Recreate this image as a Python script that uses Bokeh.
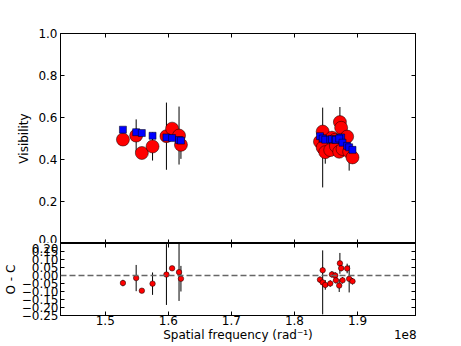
from bokeh.plotting import figure
from bokeh.layouts import column
from bokeh.models import (LinearAxis, FixedTicker, CustomJSTickFormatter, Range1d,
                          ColumnDataSource, Span)
from bokeh.embed import file_html
from bokeh.resources import INLINE

# ---------------- data ----------------
spatial_freq = [1.528e8, 1.549e8, 1.558e8, 1.575e8, 1.597e8, 1.606e8, 1.617e8, 1.620e8,
                1.8448e8, 1.8405e8, 1.8448e8, 1.8489e8, 1.8568e8, 1.8595e8, 1.8647e8, 1.8658e8,
                1.8721e8, 1.8741e8, 1.8710e8, 1.8763e8, 1.8836e8, 1.8868e8, 1.8921e8]
vis_obs = [0.495, 0.514, 0.431, 0.462, 0.511, 0.547, 0.514, 0.470,
           0.533, 0.485, 0.457, 0.435, 0.445, 0.504, 0.494, 0.464,
           0.578, 0.551, 0.437, 0.450, 0.509, 0.437, 0.410]
vis_model = [0.542, 0.530, 0.526, 0.513, 0.505, 0.502, 0.493, 0.490,
             0.500, 0.511, 0.500, 0.494, 0.495, 0.497, 0.494, 0.494,
             0.502, 0.505, 0.500, 0.480, 0.465, 0.458, 0.446]
vis_err = [0.015, 0.077, 0.010, 0.067, 0.160, 0.010, 0.138, 0.067,
           0.030, 0.030, 0.190, 0.055, 0.030, 0.030, 0.030, 0.050,
           0.072, 0.030, 0.030, 0.030, 0.030, 0.090, 0.030]
resid_err = [0.020, 0.082, 0.010, 0.070, 0.190, 0.010, 0.180, 0.080,
             0.020, 0.020, 0.200, 0.030, 0.020, 0.020, 0.020, 0.020,
             0.065, 0.020, 0.040, 0.020, 0.030, 0.085, 0.020]
freq_ticks = [1.5e8, 1.6e8, 1.7e8, 1.8e8, 1.9e8]
vis_ticks = [0.0, 0.2, 0.4, 0.6, 0.8, 1.0]
resid_ticks = [0.20, 0.15, 0.10, 0.05, 0.00, -0.05, -0.10, -0.15, -0.20, -0.25]
x_title = "Spatial frequency (rad\u207b\u00b9)"
x_offset_text = "1e8"

resid = [o - m for o, m in zip(vis_obs, vis_model)]
src = ColumnDataSource(dict(
    x=spatial_freq, v=vis_obs, m=vis_model, r=resid,
    vlo=[v - e for v, e in zip(vis_obs, vis_err)],
    vhi=[v + e for v, e in zip(vis_obs, vis_err)],
    rlo=[r - e for r, e in zip(resid, resid_err)],
    rhi=[r + e for r, e in zip(resid, resid_err)],
))

FONT = "DejaVu Sans"
XR = Range1d(1.429e8, 1.992e8)
W = 440
BL, BR = 58, 25

def style_axis(ax, labels=True):
    ax.major_tick_in = 4
    ax.major_tick_out = 0
    ax.minor_tick_line_color = None
    ax.axis_line_color = "black"
    ax.major_tick_line_color = "black"
    ax.major_label_text_font = FONT
    ax.major_label_text_font_size = "12px"
    ax.major_label_text_color = "black"
    ax.axis_label_text_font = FONT
    ax.axis_label_text_font_size = "12px"
    ax.axis_label_text_font_style = "normal"
    ax.axis_label_text_color = "black"
    if not labels:
        ax.major_label_text_font_size = "0px"
        ax.major_label_standoff = 0

# ---------------- top panel ----------------
p1 = figure(width=W, height=243, x_range=XR, y_range=Range1d(0, 1),
            output_backend="svg", toolbar_location=None,
            min_border_left=BL, min_border_right=BR, min_border_top=33, min_border_bottom=0)
p1.grid.visible = False
p1.outline_line_color = "black"
p1.outline_line_alpha = 1
p1.xaxis.ticker = FixedTicker(ticks=freq_ticks)
style_axis(p1.xaxis[0], labels=False)
p1.yaxis.ticker = FixedTicker(ticks=vis_ticks)
p1.yaxis.formatter = CustomJSTickFormatter(code="return tick.toFixed(1);")
style_axis(p1.yaxis[0])
p1.yaxis.axis_label = "Visibility"
p1.yaxis.major_label_standoff = 3
p1.yaxis.axis_label_standoff = 4
ra = LinearAxis(ticker=FixedTicker(ticks=vis_ticks))
style_axis(ra, labels=False)
p1.add_layout(ra, "right")
ta = LinearAxis(ticker=FixedTicker(ticks=freq_ticks))
style_axis(ta, labels=False)
p1.add_layout(ta, "above")

p1.segment(x0="x", y0="vlo", x1="x", y1="vhi", source=src, line_color="black", line_width=1)
p1.scatter(x="x", y="v", source=src, size=13, fill_color="#ff0000",
           line_color="black", line_width=0.5)
p1.scatter(x="x", y="m", source=src, marker="square", size=7, fill_color="#0000ff",
           line_color="black", line_width=0.5)

# ---------------- residual panel ----------------
p2 = figure(width=W, height=101, x_range=XR, y_range=Range1d(-0.25, 0.20),
            output_backend="svg", toolbar_location=None,
            min_border_left=BL, min_border_right=BR, min_border_top=0, min_border_bottom=0)
p2.grid.visible = False
p2.outline_line_color = "black"
p2.outline_line_alpha = 1
p2.xaxis.ticker = FixedTicker(ticks=freq_ticks)
p2.xaxis.formatter = CustomJSTickFormatter(code="return (tick/1e8).toFixed(1);")
style_axis(p2.xaxis[0])
p2.xaxis.major_label_standoff = 0
p2.yaxis.ticker = FixedTicker(ticks=resid_ticks)
p2.yaxis.formatter = CustomJSTickFormatter(code="return tick.toFixed(2).replace('-', '\u2212');")
style_axis(p2.yaxis[0])
p2.yaxis.axis_label = "O - C"
p2.yaxis.major_label_standoff = 2
p2.yaxis.axis_label_standoff = 1
ra2 = LinearAxis(ticker=FixedTicker(ticks=resid_ticks))
style_axis(ra2, labels=False)
p2.add_layout(ra2, "right")
ta2 = LinearAxis(ticker=FixedTicker(ticks=freq_ticks))
style_axis(ta2, labels=False)
p2.add_layout(ta2, "above")

# second bottom axis row: carries the axis title and the offset text "1e8"
span_x = XR.end - XR.start
title_axis = LinearAxis(
    ticker=FixedTicker(ticks=[XR.start + span_x / 2, XR.end - span_x * 0.029]),
    formatter=CustomJSTickFormatter(args=dict(t=x_title, o=x_offset_text),
                                    code="return index == 0 ? t : o;"))
style_axis(title_axis)
title_axis.major_tick_in = 0
title_axis.major_tick_line_color = None
title_axis.axis_line_color = None
title_axis.major_label_standoff = 0
p2.add_layout(title_axis, "below")

p2.add_layout(Span(location=0, dimension="width", line_color="#666666",
                   line_dash="6 3", line_width=1.3))
p2.segment(x0="x", y0="rlo", x1="x", y1="rhi", source=src, line_color="black", line_width=1)
p2.scatter(x="x", y="r", source=src, size=5.5, fill_color="#ff0000",
           line_color="black", line_width=0.5)

layout = column(p1, p2, spacing=0)
open("out.html", "w").write(file_html(layout, INLINE))
